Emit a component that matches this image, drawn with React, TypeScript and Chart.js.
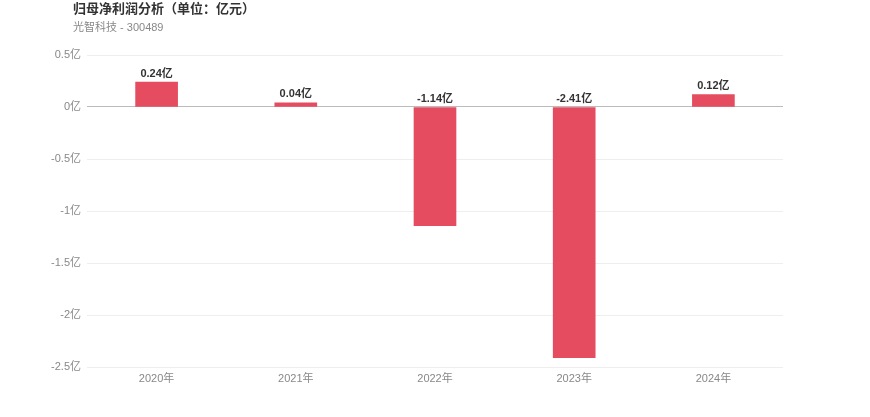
import React, { useEffect, useRef } from "react";
import { Chart, registerables } from "chart.js";

Chart.register(...registerables);

const categories = ["2020年", "2021年", "2022年", "2023年", "2024年"];
const profitValues = [0.24, 0.04, -1.14, -2.41, 0.12];
const yTickMin = -2.5;
const yTickMax = 0.5;
const yTickStep = 0.5;
const titleText = "归母净利润分析（单位：亿元）";
const subtitleText = "光智科技 - 300489";

const FONT = '"Liberation Sans", "Noto Sans CJK SC", sans-serif';

const labelPlugin = {
  id: "barLabels",
  afterDatasetsDraw(chart: any) {
    const ctx = chart.ctx;
    const meta = chart.getDatasetMeta(0);
    const yScale = chart.scales.y;
    const zeroY = yScale.getPixelForValue(0);
    ctx.save();
    ctx.font = `bold 11px ${FONT}`;
    ctx.fillStyle = "#333333";
    ctx.textAlign = "center";
    ctx.textBaseline = "bottom";
    meta.data.forEach((bar: any, i: number) => {
      const v = chart.data.datasets[0].data[i] as number;
      const y = v >= 0 ? bar.y - 3 : zeroY - 3;
      ctx.fillText(v.toFixed(2) + "亿", bar.x, y);
    });
    ctx.restore();
  },
};

export default function App() {
  const canvasRef = useRef<HTMLCanvasElement | null>(null);

  useEffect(() => {
    if (!canvasRef.current) return;
    const chart = new Chart(canvasRef.current, {
      type: "bar",
      data: {
        labels: categories,
        datasets: [
          {
            data: profitValues,
            backgroundColor: "#e54c5f",
            barThickness: 42,
          },
        ],
      },
      options: {
        animation: false,
        responsive: false,
        maintainAspectRatio: false,
        layout: { padding: { top: 55, right: 87, bottom: 0, left: 0 } },
        plugins: {
          legend: { display: false },
          tooltip: { enabled: false },
        },
        scales: {
          x: {
            grid: { display: false, drawTicks: false },
            border: { display: false },
            ticks: {
              color: "#888888",
              font: { size: 11, family: FONT },
              padding: 5,
            },
            afterFit(scale: any) {
              scale.height = 50;
            },
          },
          y: {
            min: yTickMin,
            max: yTickMax,
            border: { display: false },
            grid: {
              drawTicks: false,
              color: (c: any) => (c.tick && c.tick.value === 0 ? "#bbbbbb" : "#eeeeee"),
              lineWidth: 1,
            },
            ticks: {
              stepSize: yTickStep,
              color: "#888888",
              font: { size: 11, family: FONT },
              padding: 6,
              callback: (v: any) => `${Number(v)}亿`,
            },
            afterFit(scale: any) {
              scale.width = 87;
            },
          },
        },
      },
      plugins: [labelPlugin],
    });
    return () => chart.destroy();
  }, []);

  return (
    <div style={{ position: "absolute", left: 0, top: 0, width: 870, height: 417, background: "#fff" }}>
      <canvas ref={canvasRef} width={870} height={417} style={{ position: "absolute", left: 0, top: 0 }} />
      <div
        style={{
          position: "absolute",
          left: 73,
          top: 0,
          fontFamily: FONT,
          fontWeight: "bold",
          fontSize: 13,
          color: "#333333",
          lineHeight: "17px",
          whiteSpace: "nowrap",
        }}
      >
        {titleText}
      </div>
      <div
        style={{
          position: "absolute",
          left: 73,
          top: 19,
          fontFamily: FONT,
          fontSize: 11,
          color: "#888888",
          lineHeight: "16px",
          whiteSpace: "nowrap",
        }}
      >
        {subtitleText}
      </div>
    </div>
  );
}
